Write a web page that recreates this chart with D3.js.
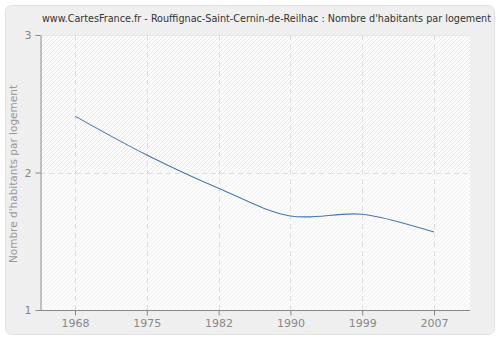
<!DOCTYPE html>
<html><head><meta charset="utf-8">
<script src="https://cdn.jsdelivr.net/npm/d3@7"></script>
<style>body{margin:0;background:#fff}svg{display:block}</style>
</head><body>
<script>
const years = ["1968","1975","1982","1990","1999","2007"];
const values = [2.41, 2.127, 1.885, 1.684, 1.696, 1.567];
const yTicks = [1, 2, 3];
const title = "www.CartesFrance.fr - Rouffignac-Saint-Cernin-de-Reilhac : Nombre d'habitants par logement";
const yTitle = "Nombre d'habitants par logement";

const W = 500, H = 340;
const m = {left: 40, right: 30, top: 35, bottom: 30};
const svg = d3.select("body").append("svg").attr("width", W).attr("height", H);

// outer panel
svg.append("rect").attr("x", 5.5).attr("y", 5.5).attr("width", 489).attr("height", 329)
  .attr("rx", 6).attr("fill", "#efefef").attr("stroke", "#e2e2e2");

const x = d3.scalePoint().domain(years).range([75, 434]);
const y = d3.scaleLinear().domain([1, 3]).range([H - m.bottom, m.top]);
const pl = 40, pr = 470;

const defs = svg.append("defs");
function hatch(id, color) {
  const p = defs.append("pattern").attr("id", id).attr("patternUnits", "userSpaceOnUse")
    .attr("width", 4).attr("height", 4);
  p.append("rect").attr("width", 4).attr("height", 4).attr("fill", "#fcfcfc");
  p.append("path").attr("d", "M-1,1 l2,-2 M0,4 l4,-4 M3,5 l2,-2").attr("stroke", color).attr("stroke-width", 0.8);
}
hatch("hU", "#e4e4e4");
hatch("hL", "#efefef");

svg.append("rect").attr("x", pl).attr("y", y(3)).attr("width", pr - pl).attr("height", y(2) - y(3)).attr("fill", "url(#hU)");
svg.append("rect").attr("x", pl).attr("y", y(2)).attr("width", pr - pl).attr("height", y(1) - y(2)).attr("fill", "url(#hL)");
svg.append("line").attr("x1", pl).attr("x2", pr).attr("y1", y(3) + 0.5).attr("y2", y(3) + 0.5).attr("stroke", "#e6e6e6");

// grid
const g = svg.append("g");
g.selectAll(".vg").data(years).join("line")
  .attr("x1", d => Math.round(x(d)) + 0.5).attr("x2", d => Math.round(x(d)) + 0.5)
  .attr("y1", y(3)).attr("y2", y(1))
  .attr("stroke", "#dedede").attr("stroke-dasharray", "5,4");
g.selectAll(".hg").data(yTicks.filter(v => v > 1 && v < 3)).join("line")
  .attr("x1", pl).attr("x2", pr)
  .attr("y1", d => Math.round(y(d)) + 0.5).attr("y2", d => Math.round(y(d)) + 0.5)
  .attr("stroke", "#dedede").attr("stroke-dasharray", "5,4");

// axes
const xAxis = d3.axisBottom(x).tickSize(5).tickSizeOuter(0);
const gx = svg.append("g").attr("transform", `translate(0,${y(1) + 0.5})`).call(xAxis);
gx.select(".domain").attr("d", `M${pl},0H${pr}`);
const yAxis = d3.axisLeft(y).tickValues(yTicks).tickFormat(d3.format("d")).tickSize(5).tickSizeOuter(0);
const gy = svg.append("g").attr("transform", `translate(${pl + 0.5},0)`).call(yAxis);
[gx, gy].forEach(a => {
  a.select(".domain").attr("stroke", "#888");
  a.selectAll(".tick line").attr("stroke", "#888");
  a.selectAll(".tick text").attr("fill", "#888").attr("font-family", "DejaVu Sans, Verdana, sans-serif").attr("font-size", 11);
});
gx.selectAll(".tick text").attr("dy", "0.71em").attr("y", 9);
gy.selectAll(".tick text").attr("x", -9);

// line
const line = d3.line().x((d, i) => x(years[i])).y(d => y(d)).curve(d3.curveCatmullRom.alpha(0.5));
svg.append("path").datum(values).attr("d", line).attr("fill", "none")
  .attr("stroke", "#4a76ae").attr("stroke-width", 1.1);

// titles
svg.append("text").attr("x", 42).attr("y", 22).attr("textLength", 449).attr("lengthAdjust", "spacingAndGlyphs")
  .attr("font-family", "DejaVu Sans Condensed, Liberation Sans Narrow, sans-serif").attr("font-size", 10.5).attr("fill", "#333").text(title);
svg.append("text").attr("transform", `translate(17,${174}) rotate(-90)`).attr("text-anchor", "middle")
  .attr("font-family", "DejaVu Sans, Verdana, sans-serif").attr("font-size", 10.5).attr("fill", "#999").text(yTitle);
</script>
</body></html>
